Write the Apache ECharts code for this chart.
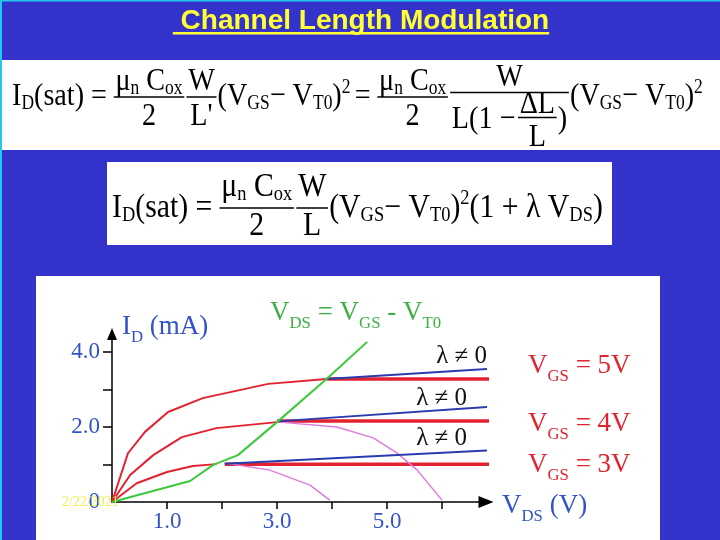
<!DOCTYPE html>
<html><head><meta charset="utf-8">
<script src="https://cdn.jsdelivr.net/npm/echarts@6/dist/echarts.min.js"></script>
<style>html,body{margin:0;padding:0;background:#3333cc}#c{width:720px;height:540px}</style>
</head><body><div id="c"></div>
<script>
// ---- data (VDS in V, ID in mA) ----
const vgs5Triode = [[0,0],[0.29,1.3],[0.6,1.87],[1.02,2.4],[1.65,2.77],[2.84,3.15],[3.9,3.28]];
const vgs4Triode = [[0,0],[0.33,0.72],[0.75,1.25],[1.27,1.73],[1.9,1.97],[3.0,2.13]];
const vgs3Triode = [[0,0],[0.45,0.5],[1.0,0.8],[1.47,0.96],[1.9,1.01]];
const vgs5Sat = [[3.9,3.28],[6.96,3.28]];
const vgs4Sat = [[3.0,2.16],[7.0,2.16]];
const vgs3Sat = [[2.05,1.01],[6.93,1.01]];
const vgs5Lambda = [[3.9,3.28],[7.1,3.57]];
const vgs4Lambda = [[3.0,2.15],[7.1,2.56]];
const vgs3Lambda = [[2.05,1.02],[7.09,1.39]];
const satLocus = [[0,0],[1.42,0.56],[1.84,0.99],[2.29,1.25],[3.0,2.13],[3.9,3.28],[4.64,4.27]];
const vgs4Short = [[3.05,2.13],[4.09,2.0],[4.75,1.71],[5.18,1.31],[5.55,0.85],[6.0,0.05]];
const vgs3Short = [[2.05,1.04],[2.87,0.85],[3.6,0.45],[3.96,0.05]];
const xTicks = [1,2,3,4,5,6];
const xTickLabels = [1,3,5];
const yTicks = [1,2,3,4];
const yTickLabels = [0,2,4];
const titleText = ' Channel Length Modulation';
const dateText = '2/22/2021';

// ---- text layout helpers ----
const SERIF = 'Liberation Serif';
const mctx = document.createElement('canvas').getContext('2d');
function tw(t, size, fam, weight){ mctx.font = (weight||'normal') + ' ' + size + 'px ' + fam; return mctx.measureText(t).width; }
function parse(s, o){
  if (s[0] === '_') return {t:s.slice(1), size:o.F*o.ss, dy:o.sub*o.F};
  if (s[0] === '^') return {t:s.slice(1), size:o.F*o.ss, dy:o.sup*o.F};
  return {t:s, size:o.F, dy:0};
}
function segW(segs, o){ let w = 0; segs.forEach(s => { const p = parse(s, o); w += tw(p.t, p.size, o.fam, o.weight); }); return w; }
function drawSeq(out, x, y, segs, o){
  segs.forEach(s => {
    const p = parse(s, o);
    out.push({type:'text', x:x, y:y + p.dy, z:30, silent:true,
      style:{text:p.t, fontSize:p.size, fontFamily:o.fam, fontWeight:o.weight||'normal', fill:o.color, align:'left', verticalAlign:'middle'}});
    x += tw(p.t, p.size, o.fam, o.weight);
  });
  return x;
}
function itemW(it, o){
  if (it.s) return segW(it.s, o);
  if (it.g) return it.g * o.F;
  if (it.f) return Math.max(rowW(it.f[0], o), rowW(it.f[1], o)) + 2 * o.pad * o.F;
  return 0;
}
function rowW(items, o){ return items.reduce((a, it) => a + itemW(it, o), 0); }
function drawRow(out, x, y, items, o){
  items.forEach(it => {
    const w = itemW(it, o);
    if (it.s) drawSeq(out, x, y, it.s, o);
    else if (it.f) {
      const q = Object.assign({axis:o.axis, numOff:o.numOff, denOff:o.denOff}, it.o || {});
      const num = it.f[0], den = it.f[1];
      const bar = y + q.axis * o.F;
      const nw = rowW(num, o), dw = rowW(den, o);
      drawRow(out, x + (w - nw) / 2, bar - q.numOff * o.F, num, o);
      drawRow(out, x + (w - dw) / 2, bar + q.denOff * o.F, den, o);
      out.push({type:'line', z:30, silent:true, shape:{x1:x + o.pad*o.F*0.4, y1:bar, x2:x + w - o.pad*o.F*0.4, y2:bar},
        style:{stroke:o.color, lineWidth:o.barW}});
    }
    x += w;
  });
  return x;
}
function formula(items, x0, x1, yc, o){
  const base = Object.assign({}, o, {F:30});
  const w30 = rowW(items, base);
  const oo = Object.assign({}, o, {F: 30 * (x1 - x0) / w30});
  const children = [];
  drawRow(children, 0, 0, items, oo);
  return {type:'group', x:x0, y:yc, scaleY:o.sy, children:children};
}
function label(out, x, y, segs, o, align){
  const w = segW(segs, o);
  const sx = align === 'right' ? x - w : (align === 'center' ? x - w/2 : x);
  drawSeq(out, sx, y, segs, o);
}

// ---- graphic elements ----
const els = [];
els.push({type:'rect', z:0, silent:true, shape:{x:0, y:0, width:720, height:1.5}, style:{fill:'#22c8ee'}});
els.push({type:'rect', z:0, silent:true, shape:{x:0, y:0, width:2, height:540}, style:{fill:'#22c8ee'}});
els.push({type:'rect', z:0, silent:true, shape:{x:2, y:60, width:718, height:90}, style:{fill:'#ffffff'}});
els.push({type:'rect', z:0, silent:true, shape:{x:107, y:162, width:505, height:83}, style:{fill:'#ffffff'}});
els.push({type:'rect', z:0, silent:true, shape:{x:36, y:276, width:624, height:264}, style:{fill:'#ffffff'}});

// title
const tFont = 28;
const tW = tw(titleText, tFont, 'Liberation Sans', 'bold');
els.push({type:'text', z:30, silent:true, x:360 - tW/2 + 1, y:21,
  style:{text:titleText, fontSize:tFont, fontFamily:'Liberation Sans', fontWeight:'bold', fill:'#ffff33', align:'left', verticalAlign:'middle'}});
els.push({type:'rect', z:30, silent:true, shape:{x:360 - tW/2 + 1, y:32, width:tW, height:2.5}, style:{fill:'#ffff33'}});

// formulas
const fo = {fam:SERIF, color:'#000', ss:0.62, sub:0.22, sup:-0.3, pad:0.1, axis:0.0, numOff:0.48, denOff:0.6, barW:1.3, sy:1.15};
const muC = {s:['μ','_n',' C','_ox']};
const two = {s:['2']};
const paren = {s:['(V','_GS','− V','_T0',')','^2']};
const f1 = [
  {s:['I','_D','(sat) =']}, {g:0.2},
  {f:[[muC],[two]]},
  {f:[[{s:['W']}],[{s:["L'"]}]]},
  paren, {g:0.15}, {s:['=']}, {g:0.2},
  {f:[[muC],[two]]},
  {f:[[{s:['W']}],[{s:['L(1 −']}, {g:0.05}, {f:[[{s:['ΔL']}],[{s:['L']}]], o:{axis:-0.05, numOff:0.4, denOff:0.62}}, {s:[')']}]],
   o:{axis:-0.14, numOff:0.45, denOff:0.82}},
  paren
];
els.push(formula(f1, 12, 703, 97, fo));
const fo2 = Object.assign({}, fo, {numOff:0.62, denOff:0.55, sy:1.1});
const f2 = [
  {s:['I','_D','(sat) =']}, {g:0.2},
  {f:[[muC],[two]]},
  {f:[[{s:['W']}],[{s:['L']}]]},
  {s:['(V','_GS','− V','_T0',')','^2','(1 + λ V','_DS',')']}
];
els.push(formula(f2, 112, 603, 208, fo2));

// chart labels
const blue = '#3152c8', red = '#e2222e', green = '#3cb043';
const lo = {fam:SERIF, F:27, ss:0.62, sub:0.4, sup:-0.3};
label(els, 122, 327, ['I','_D',' (mA)'], Object.assign({}, lo, {color:blue}));
label(els, 270, 313, ['V','_DS',' = V','_GS',' - V','_T0'], Object.assign({}, lo, {color:green}));
const lam = Object.assign({}, lo, {F:25, color:'#111'});
label(els, 487, 356, ['λ ≠ 0'], lam, 'right');
label(els, 467, 398, ['λ ≠ 0'], lam, 'right');
label(els, 467, 438, ['λ ≠ 0'], lam, 'right');
const ro = Object.assign({}, lo, {color:red});
label(els, 528, 366, ['V','_GS',' = 5V'], ro);
label(els, 528, 424, ['V','_GS',' = 4V'], ro);
label(els, 528, 465, ['V','_GS',' = 3V'], ro);
label(els, 502, 506, ['V','_DS',' (V)'], Object.assign({}, lo, {color:blue}));
els.push({type:'text', z:40, silent:true, x:62, y:502,
  style:{text:dateText, fontSize:14, fontFamily:SERIF, fill:'#eeee55', align:'left', verticalAlign:'middle'}});

// ---- chart ----
function ln(data, color, width, z){
  return {type:'line', data:data, showSymbol:false, symbol:'none', clip:false, silent:true, z:z,
    lineStyle:{color:color, width:width}, animation:false};
}
const axisLabelStyle = {color:blue, fontFamily:SERIF, fontSize:23};
const option = {
  backgroundColor:'#3333cc',
  animation:false,
  grid:{left:112, top:334, width:374, height:168},
  xAxis:{type:'value', min:0, max:6.8, interval:1,
    axisLine:{show:true, symbol:['none','triangle'], symbolSize:[12,15], lineStyle:{color:'#000', width:1.5}},
    axisTick:{show:true, customValues:xTicks, length:7, inside:false, lineStyle:{color:'#000', width:1.5}},
    axisLabel:Object.assign({show:true, customValues:xTickLabels, margin:8, formatter:v => v.toFixed(1)}, axisLabelStyle),
    splitLine:{show:false}},
  yAxis:{type:'value', min:0, max:4.48, interval:1,
    axisLine:{show:true, symbol:['none','triangle'], symbolSize:[10,12], lineStyle:{color:'#000', width:1.5}},
    axisTick:{show:true, customValues:yTicks, length:9, inside:false, lineStyle:{color:'#000', width:1.5}},
    axisLabel:Object.assign({show:true, customValues:yTickLabels, margin:12, formatter:v => v === 0 ? '0' : v.toFixed(1)}, axisLabelStyle),
    splitLine:{show:false}},
  series:[
    ln(vgs5Triode, red, 2, 3), ln(vgs4Triode, red, 2, 3), ln(vgs3Triode, red, 2, 3),
    ln(vgs5Sat, red, 3.5, 3), ln(vgs4Sat, red, 3.5, 3), ln(vgs3Sat, red, 3.5, 3),
    ln(vgs4Short, '#e07ae0', 1.5, 4), ln(vgs3Short, '#e07ae0', 1.5, 4),
    ln(vgs5Lambda, '#2a3cad', 2, 5), ln(vgs4Lambda, '#2a3cad', 2, 5), ln(vgs3Lambda, '#2a3cad', 2, 5),
    ln(satLocus, '#3cc83c', 2, 6)
  ],
  graphic:{elements:els}
};
const chart = echarts.init(document.getElementById('c'), null, {renderer:'canvas'});
chart.setOption(option);
</script></body></html>
